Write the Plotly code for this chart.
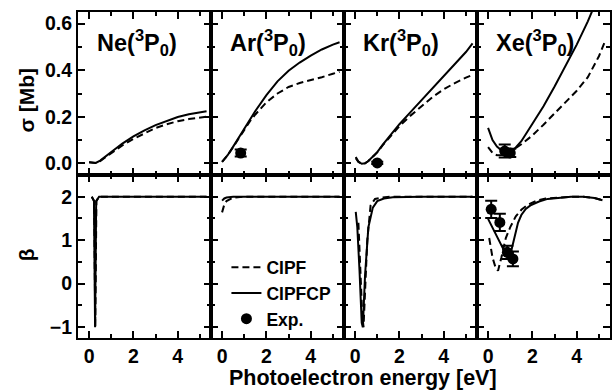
import plotly.graph_objects as go
from plotly.subplots import make_subplots

# ---------------- data ----------------
panel_labels = ["Ne(<sup>3</sup>P<sub>0</sub>)", "Ar(<sup>3</sup>P<sub>0</sub>)",
                "Kr(<sup>3</sup>P<sub>0</sub>)", "Xe(<sup>3</sup>P<sub>0</sub>)"]

# cross sections sigma [Mb]
ne_x_sig = [0.0, 0.1, 0.2, 0.3, 0.5, 0.75, 1.0, 1.5, 2.0, 2.5, 3.0, 3.5, 4.0, 4.5, 5.0, 5.3]
ne_sig_cipfcp = [0.005, 0.003, 0.001, 0.002, 0.012, 0.03, 0.05, 0.085, 0.116, 0.142, 0.164, 0.183, 0.199, 0.211, 0.219, 0.224]
ne_sig_cipf = [0.005, 0.003, 0.001, 0.002, 0.010, 0.026, 0.045, 0.077, 0.105, 0.13, 0.152, 0.168, 0.181, 0.19, 0.197, 0.2]

ar_x_sig = [0.0, 0.25, 0.5, 0.75, 1.0, 1.25, 1.5, 2.0, 2.5, 3.0, 3.5, 4.0, 4.5, 5.0, 5.3]
ar_sig_cipfcp = [0.006, 0.035, 0.072, 0.11, 0.15, 0.19, 0.225, 0.293, 0.352, 0.398, 0.433, 0.463, 0.489, 0.51, 0.52]
ar_sig_cipf = [0.006, 0.035, 0.07, 0.107, 0.145, 0.18, 0.21, 0.262, 0.30, 0.328, 0.345, 0.357, 0.37, 0.385, 0.393]

kr_x_sig = [0.03, 0.15, 0.3, 0.45, 0.6, 0.8, 1.0, 1.25, 1.5, 2.0, 2.5, 3.0, 3.5, 4.0, 4.5, 5.0, 5.3]
kr_sig_cipfcp = [0.027, 0.008, -0.002, 0.0, 0.01, 0.027, 0.048, 0.08, 0.11, 0.168, 0.22, 0.272, 0.325, 0.378, 0.428, 0.478, 0.515]
kr_sig_cipf = [0.022, 0.006, -0.002, 0.0, 0.01, 0.027, 0.047, 0.078, 0.105, 0.16, 0.205, 0.245, 0.285, 0.318, 0.345, 0.368, 0.38]

xe_x_sig = [0.0, 0.2, 0.4, 0.6, 0.8, 1.0, 1.25, 1.5, 2.0, 2.5, 3.0, 3.5, 4.0, 4.5, 5.0, 5.3]
xe_sig_cipfcp = [0.152, 0.10, 0.072, 0.056, 0.049, 0.05, 0.068, 0.095, 0.17, 0.245, 0.33, 0.42, 0.51, 0.61, 0.72, 0.79]
xe_sig_cipf = [0.07, 0.045, 0.035, 0.036, 0.042, 0.052, 0.066, 0.082, 0.12, 0.166, 0.215, 0.265, 0.312, 0.37, 0.46, 0.53]

# experimental sigma
ar_exp_x = [0.84]
ar_exp_sig = [0.044]
ar_exp_sig_err = [0.015]
kr_exp_x = [1.0]
kr_exp_sig = [0.002]
kr_exp_sig_err = [0.005]
xe_exp_x = [0.75, 1.0]
xe_exp_sig = [0.053, 0.045]
xe_exp_sig_err = [0.028, 0.018]

# asymmetry parameter beta
ne_x_b_cipfcp = [0.12, 0.22, 0.27, 0.32, 0.45, 1.0, 2.0, 3.0, 4.0, 5.3]
ne_b_cipfcp = [2.0, 1.9, -1.0, 1.9, 2.0, 2.0, 2.0, 2.0, 2.0, 2.0]
ne_x_b_cipf = [0.12, 0.23, 0.28, 0.33, 0.45, 1.0, 2.0, 3.0, 4.0, 5.3]
ne_b_cipf = [2.0, 1.9, -1.0, 1.9, 2.0, 2.0, 2.0, 2.0, 2.0, 2.0]

ar_x_b = [0.0, 0.1, 0.2, 0.33, 0.5, 1.0, 2.0, 3.0, 4.0, 5.3]
ar_b_cipfcp = [1.91, 1.96, 1.98, 1.99, 2.0, 2.0, 2.0, 2.0, 2.0, 2.0]
ar_b_cipf = [1.64, 1.82, 1.9, 1.94, 1.98, 2.0, 2.0, 2.0, 2.0, 2.0]

kr_x_b_cipfcp = [0.03, 0.1, 0.2, 0.3, 0.35, 0.45, 0.6, 0.8, 1.0, 1.3, 1.7, 2.2, 3.0, 4.0, 5.3]
kr_b_cipfcp = [1.65, 1.3, 0.3, -0.9, -1.0, 0.2, 1.3, 1.75, 1.9, 1.96, 1.99, 2.0, 2.0, 2.0, 2.0]
kr_x_b_cipf = [0.15, 0.25, 0.32, 0.38, 0.45, 0.55, 0.7, 0.9, 1.2, 1.6, 2.2, 3.0, 4.0, 5.3]
kr_b_cipf = [1.4, 0.2, -0.7, -1.0, -0.3, 1.0, 1.8, 1.95, 1.98, 2.0, 2.0, 2.0, 2.0, 2.0]

xe_x_b_cipfcp = [0.0, 0.2, 0.45, 0.7, 0.9, 1.0, 1.2, 1.35, 1.5, 1.7, 1.94, 2.3, 2.69, 3.2, 3.74, 4.3, 4.8, 5.16]
xe_b_cipfcp = [1.49, 1.28, 1.03, 0.76, 0.58, 0.66, 1.1, 1.4, 1.58, 1.72, 1.81, 1.89, 1.95, 1.98, 2.0, 2.0, 1.97, 1.92]
xe_x_b_cipf = [0.05, 0.2, 0.35, 0.45, 0.6, 0.8, 1.0, 1.25, 1.5, 1.8, 2.2, 2.6, 3.2, 3.74, 4.3, 4.8, 5.16]
xe_b_cipf = [1.05, 0.6, 0.35, 0.3, 0.6, 1.05, 1.3, 1.55, 1.7, 1.82, 1.91, 1.96, 1.98, 2.0, 2.0, 1.97, 1.92]

xe_exp_x_b = [0.14, 0.53, 0.87, 1.12]
xe_exp_b = [1.71, 1.41, 0.72, 0.57]
xe_exp_b_err = [0.2, 0.2, 0.15, 0.17]

x_range = [-0.5, 5.5]
sig_range = [-0.05, 0.65]
beta_range = [-1.25, 2.5]

# ---------------- figure ----------------
FONT = "Liberation Sans"
DASH = "7px,4px"

fig = make_subplots(rows=2, cols=4, horizontal_spacing=0, vertical_spacing=0)

sig_sets = [
    (ne_x_sig, ne_sig_cipf, ne_sig_cipfcp),
    (ar_x_sig, ar_sig_cipf, ar_sig_cipfcp),
    (kr_x_sig, kr_sig_cipf, kr_sig_cipfcp),
    (xe_x_sig, xe_sig_cipf, xe_sig_cipfcp),
]
beta_sets = [
    (ne_x_b_cipf, ne_b_cipf, ne_x_b_cipfcp, ne_b_cipfcp),
    (ar_x_b, ar_b_cipf, ar_x_b, ar_b_cipfcp),
    (kr_x_b_cipf, kr_b_cipf, kr_x_b_cipfcp, kr_b_cipfcp),
    (xe_x_b_cipf, xe_b_cipf, xe_x_b_cipfcp, xe_b_cipfcp),
]

for i, (xs, cipf, cipfcp) in enumerate(sig_sets):
    c = i + 1
    fig.add_trace(go.Scatter(x=xs, y=cipf, mode="lines", name="CIPF",
                             line=dict(color="black", width=2, dash=DASH),
                             showlegend=(c == 2), legendrank=1), row=1, col=c)
    fig.add_trace(go.Scatter(x=xs, y=cipfcp, mode="lines", name="CIPFCP",
                             line=dict(color="black", width=2),
                             showlegend=(c == 2), legendrank=2), row=1, col=c)

for i, (xd, bd, xsol, bsol) in enumerate(beta_sets):
    c = i + 1
    fig.add_trace(go.Scatter(x=xd, y=bd, mode="lines", name="CIPF",
                             line=dict(color="black", width=2, dash=DASH),
                             showlegend=False), row=2, col=c)
    fig.add_trace(go.Scatter(x=xsol, y=bsol, mode="lines", name="CIPFCP",
                             line=dict(color="black", width=2),
                             showlegend=False), row=2, col=c)

exp_sets = [
    (1, 2, ar_exp_x, ar_exp_sig, ar_exp_sig_err, True),
    (1, 3, kr_exp_x, kr_exp_sig, kr_exp_sig_err, False),
    (1, 4, xe_exp_x, xe_exp_sig, xe_exp_sig_err, False),
    (2, 4, xe_exp_x_b, xe_exp_b, xe_exp_b_err, False),
]
for r, c, xs, ys, es, leg in exp_sets:
    fig.add_trace(go.Scatter(x=xs, y=ys, mode="markers", name="Exp.",
                             marker=dict(color="black", size=11),
                             error_y=dict(type="data", array=es, color="black",
                                          thickness=2, width=6),
                             showlegend=leg, legendrank=3), row=r, col=c)

axis_common = dict(showline=True, linecolor="black", linewidth=2, mirror="allticks",
                   ticks="inside", ticklen=7, tickwidth=2, tickcolor="black",
                   showgrid=False, zeroline=False,
                   tickfont=dict(family=FONT, size=19.5, color="black", weight="bold"))

for r in (1, 2):
    for c in range(1, 5):
        fig.update_xaxes(range=x_range, tick0=0, dtick=2,
                         minor=dict(ticks="inside", ticklen=4, tickwidth=2,
                                    tickcolor="black", dtick=1, tick0=0, showgrid=False),
                         showticklabels=(r == 2), **axis_common, row=r, col=c)
        if r == 1:
            fig.update_yaxes(range=sig_range, tick0=0, dtick=0.2, tickformat=".1f",
                             minor=dict(ticks="inside", ticklen=4, tickwidth=2,
                                        tickcolor="black", dtick=0.1, tick0=0, showgrid=False),
                             showticklabels=(c == 1), **axis_common, row=r, col=c)
        else:
            fig.update_yaxes(range=beta_range, tick0=0, dtick=1,
                             minor=dict(ticks="inside", ticklen=4, tickwidth=2,
                                        tickcolor="black", dtick=0.5, tick0=0, showgrid=False),
                             showticklabels=(c == 1), **axis_common, row=r, col=c)

annotations = []
xaxis_names = ["x", "x2", "x3", "x4"]
for i, lab in enumerate(panel_labels):
    annotations.append(dict(text=lab, xref=xaxis_names[i] + " domain", yref="y domain",
                            x=0.13, y=0.815, xanchor="left", yanchor="middle",
                            showarrow=False,
                            font=dict(family=FONT, size=23.5, color="black", weight="bold")))
annotations.append(dict(text="σ [Mb]", xref="paper", yref="paper", x=-0.097, y=0.73,
                        xanchor="center", yanchor="middle", textangle=-90, showarrow=False,
                        font=dict(family=FONT, size=21, color="black", weight="bold")))
annotations.append(dict(text="β", xref="paper", yref="paper", x=-0.097, y=0.255,
                        xanchor="center", yanchor="middle", textangle=-90, showarrow=False,
                        font=dict(family=FONT, size=21, color="black", weight="bold")))
annotations.append(dict(text="Photoelectron energy [eV]", xref="paper", yref="paper",
                        x=0.535, y=-0.123, xanchor="center", yanchor="middle",
                        showarrow=False,
                        font=dict(family=FONT, size=21.5, color="black", weight="bold")))

fig.update_layout(
    width=613, height=392,
    margin=dict(l=78, r=1, t=12, b=54),
    paper_bgcolor="white", plot_bgcolor="white",
    annotations=annotations,
    showlegend=True,
    legend=dict(x=0.279, y=0.272, xanchor="left", yanchor="top",
                bgcolor="rgba(0,0,0,0)", borderwidth=0, tracegroupgap=0,
                font=dict(family=FONT, size=17.5, color="black", weight="bold")),
)

fig.write_html("out.html")
